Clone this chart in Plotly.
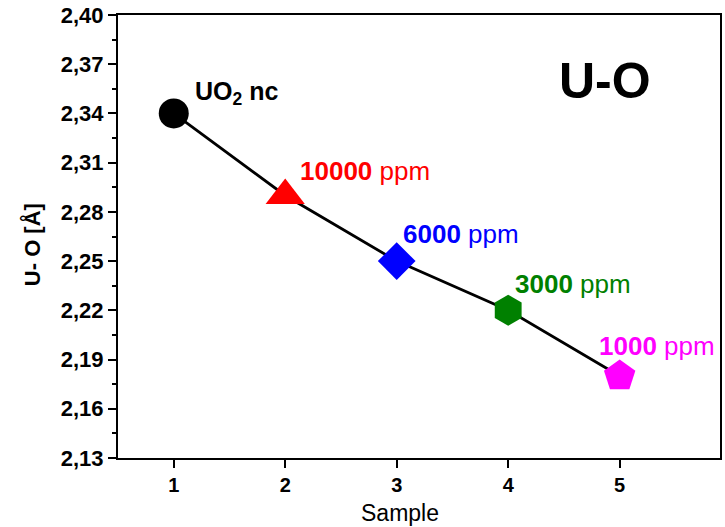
import plotly.graph_objects as go

# U-O bond length per sample
samples = [1, 2, 3, 4, 5]
uo_dist = [2.34, 2.29, 2.25, 2.22, 2.18]
marker_symbols = ["circle", "triangle-up", "diamond", "hexagon", "pentagon"]
marker_colors = ["black", "red", "blue", "green", "magenta"]
marker_sizes = [30, 34, 29, 31, 33]

# Labels: bold number + plain unit, placed beside each point
label_text = ["<b>UO<sub>2</sub> nc</b>", "<b>10000</b> ppm", "<b>6000</b> ppm",
              "<b>3000</b> ppm", "<b>1000</b> ppm"]
label_x = [1.17, 2.115, 3.035, 4.045, 4.80]
label_y = [2.3525, 2.305, 2.2665, 2.236, 2.198]
label_sizes = [25, 26, 26, 26, 26]

y_ticks = [2.13, 2.16, 2.19, 2.22, 2.25, 2.28, 2.31, 2.34, 2.37, 2.40]

font_family = "Liberation Sans, Arial, sans-serif"

fig = go.Figure()

fig.add_trace(go.Scatter(
    x=samples, y=uo_dist, mode="lines",
    line=dict(color="black", width=2.8),
    showlegend=False, hoverinfo="skip",
))

fig.add_trace(go.Scatter(
    x=samples, y=uo_dist, mode="markers",
    marker=dict(symbol=marker_symbols, color=marker_colors, size=marker_sizes,
                opacity=1, line=dict(width=0)),
    showlegend=False,
))

for tx, ty, t, c, s in zip(label_x, label_y, label_text, marker_colors, label_sizes):
    fig.add_annotation(x=tx, y=ty, text=t, showarrow=False, xanchor="left",
                       yanchor="middle", font=dict(color=c, size=s, family=font_family))

fig.add_annotation(x=4.866, y=2.360, text="<b>U-O</b>", showarrow=False,
                   font=dict(color="black", size=50, family=font_family))

# Axis titles
fig.add_annotation(xref="paper", yref="paper", x=0.4685, y=-0.124, text="Sample",
                   xanchor="center", yanchor="middle",
                   showarrow=False, font=dict(size=23, family=font_family))
fig.add_annotation(xref="paper", yref="paper", x=-0.1424, y=0.481, text="<b>U- O [Å]</b>",
                   xanchor="center", yanchor="middle",
                   textangle=-90, showarrow=False, font=dict(size=22, family=font_family))

fig.update_layout(
    width=725, height=527,
    margin=dict(l=118, r=3, t=15, b=69),
    plot_bgcolor="white", paper_bgcolor="white",
    separators=",.",
    font=dict(family=font_family, color="black"),
)

fig.update_xaxes(
    range=[0.5, 5.9], tickvals=samples, ticktext=[f"<b>{s}</b>" for s in samples],
    ticks="outside", ticklen=8, tickwidth=2, tickcolor="black",
    showline=True, linewidth=2, linecolor="black", mirror=True,
    showgrid=False, zeroline=False,
    tickfont=dict(size=20, family=font_family),
)

fig.update_yaxes(
    range=[2.13, 2.40], tickvals=y_ticks, tickformat=".2f",
    ticks="outside", ticklen=8, tickwidth=2, tickcolor="black",
    minor=dict(dtick=0.015, tick0=2.13, ticks="outside", ticklen=4, tickwidth=2, tickcolor="black"),
    showline=True, linewidth=2, linecolor="black", mirror=True,
    showgrid=False, zeroline=False,
    tickfont=dict(size=22, family=font_family, weight="bold"),
)

fig.write_html("out.html")
